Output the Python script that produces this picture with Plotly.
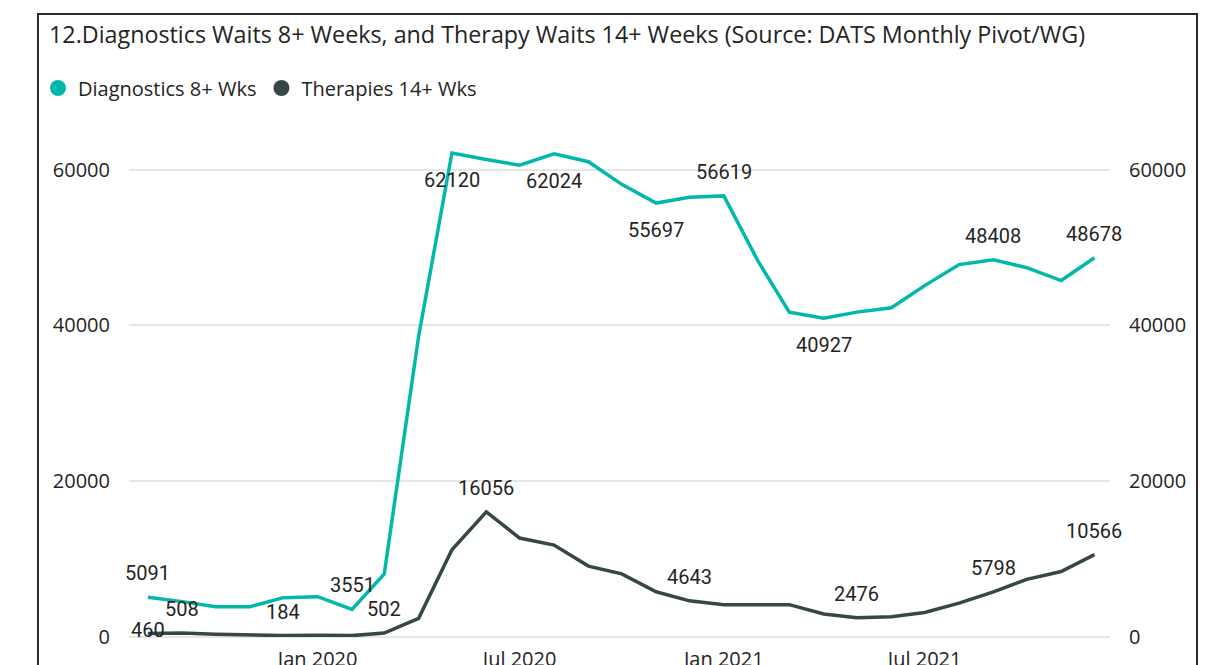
import plotly.graph_objects as go

# ---------------- data ----------------
months = [
    "2019-08-01", "2019-09-01", "2019-10-01", "2019-11-01", "2019-12-01",
    "2020-01-01", "2020-02-01", "2020-03-01", "2020-04-01", "2020-05-01",
    "2020-06-01", "2020-07-01", "2020-08-01", "2020-09-01", "2020-10-01",
    "2020-11-01", "2020-12-01", "2021-01-01", "2021-02-01", "2021-03-01",
    "2021-04-01", "2021-05-01", "2021-06-01", "2021-07-01", "2021-08-01",
    "2021-09-01", "2021-10-01", "2021-11-01", "2021-12-01",
]
diagnostics_8wk = [
    5091, 4540, 3890, 3890, 5050,
    5180, 3551, 8100, 38600, 62120,
    61300, 60550, 62024, 61000, 58100,
    55697, 56450, 56619, 48200, 41700,
    40927, 41700, 42250, 45100, 47800,
    48408, 47400, 45750, 48678,
]
therapies_14wk = [
    460, 508, 350, 260, 184,
    220, 180, 502, 2400, 11200,
    16056, 12700, 11800, 9100, 8100,
    5800, 4643, 4150, 4200, 4150,
    2950, 2476, 2600, 3150, 4350,
    5798, 7400, 8400, 10566,
]
diag_labelled = ["2019-08-01", "2020-02-01", "2020-05-01", "2020-08-01",
                 "2020-11-01", "2021-01-01", "2021-04-01", "2021-09-01", "2021-12-01"]
ther_labelled = ["2019-08-01", "2019-09-01", "2019-12-01", "2020-03-01",
                 "2020-06-01", "2020-12-01", "2021-05-01", "2021-09-01", "2021-12-01"]
y_ticks = [0, 20000, 40000, 60000]

# ---------------- style ----------------
TEAL = "#01B8AA"
DARK = "#374649"
TXT = "#252423"
GRID = "#E6E6E6"
OFF = 8                      # page body margin
W, H = 1221 - OFF, 665 - OFF
PL, PR, PT, PB = 129, 1110, 115, 637   # plot area in screen pixels
L, T = PL - OFF, PT - OFF
R, B = W - (PR - OFF), H - (PB - OFF)
PW, PH = PR - PL, PB - PT
YMAX = 67000
XR = ["2019-07-15", "2021-12-15"]

def px_x(px):
    return (px - PL) / PW

def px_y(py):
    return (PB - py) / PH

diag_below = ["2020-05-01", "2020-08-01", "2020-11-01", "2021-04-01"]
ther_shift_special = {"2019-08-01": 3}

fig = go.Figure()
fig.add_trace(go.Scatter(x=months, y=diagnostics_8wk, mode="lines",
                         line=dict(color=TEAL, width=3.5), showlegend=False,
                         name="Diagnostics 8+ Wks"))
fig.add_trace(go.Scatter(x=months, y=therapies_14wk, mode="lines",
                         line=dict(color=DARK, width=3.5), showlegend=False,
                         name="Therapies 14+ Wks", yaxis="y2"))
for nm, col in [("Diagnostics 8+ Wks", TEAL), ("Therapies 14+ Wks", DARK)]:
    fig.add_trace(go.Scatter(x=[None], y=[None], mode="markers", name=nm,
                             marker=dict(color=col, size=16, symbol="circle")))

LABEL_FONT = dict(family="Roboto, DejaVu Sans", size=20, color=TXT)
for m, v in zip(months, diagnostics_8wk):
    if m in diag_labelled:
        fig.add_annotation(x=m, y=v, xref="x", yref="y", text=str(v),
                           showarrow=False, font=LABEL_FONT,
                           yshift=-27 if m in diag_below else 24)
for m, v in zip(months, therapies_14wk):
    if m in ther_labelled:
        fig.add_annotation(x=m, y=v, xref="x", yref="y2", text=str(v),
                           showarrow=False, font=LABEL_FONT,
                           yshift=ther_shift_special.get(m, 24))

fig.add_shape(type="rect", xref="paper", yref="paper",
              x0=px_x(38), x1=px_x(1197), y0=px_y(700), y1=px_y(14),
              line=dict(color="#2b2b2b", width=2), fillcolor="rgba(0,0,0,0)",
              layer="above")

AX_FONT = dict(family="Segoe UI, Open Sans, sans-serif", size=20, color=TXT)
fig.update_layout(
    width=W, height=H,
    margin=dict(l=L, r=R, t=T, b=B, autoexpand=False),
    paper_bgcolor="white", plot_bgcolor="white",
    title=dict(text="12.Diagnostics Waits 8+ Weeks, and Therapy Waits 14+ Weeks (Source: DATS Monthly Pivot/WG)",
               x=(49 - OFF) / W, xanchor="left", xref="container",
               y=1 - (35 - OFF) / H, yanchor="middle", yref="container",
               font=dict(family="Segoe UI, Open Sans, sans-serif", size=23.3, color=TXT)),
    legend=dict(orientation="h", x=px_x(38), xanchor="left", y=px_y(88), yanchor="middle",
                font=dict(family="Segoe UI, Open Sans, sans-serif", size=20, color=TXT),
                itemwidth=30, tracegroupgap=0, bgcolor="rgba(0,0,0,0)"),
    xaxis=dict(range=XR, type="date", showgrid=False, zeroline=False, showline=False,
               tick0="2020-01-01", dtick="M6", tickformat="%b %Y",
               tickfont=AX_FONT, ticks="", ticklabelstandoff=8),
    yaxis=dict(range=[0, YMAX], tickvals=y_ticks, showgrid=True, gridcolor=GRID, gridwidth=1.5,
               zeroline=True, zerolinecolor=GRID, zerolinewidth=1.5, showline=False,
               tickfont=AX_FONT, ticks="", ticklabelstandoff=18, tickformat="d"),
    yaxis2=dict(range=[0, YMAX], tickvals=y_ticks, overlaying="y", side="right",
                showgrid=False, zeroline=False, showline=False,
                tickfont=AX_FONT, ticks="", ticklabelstandoff=18, tickformat="d"),
)

fig.write_html("out.html")
